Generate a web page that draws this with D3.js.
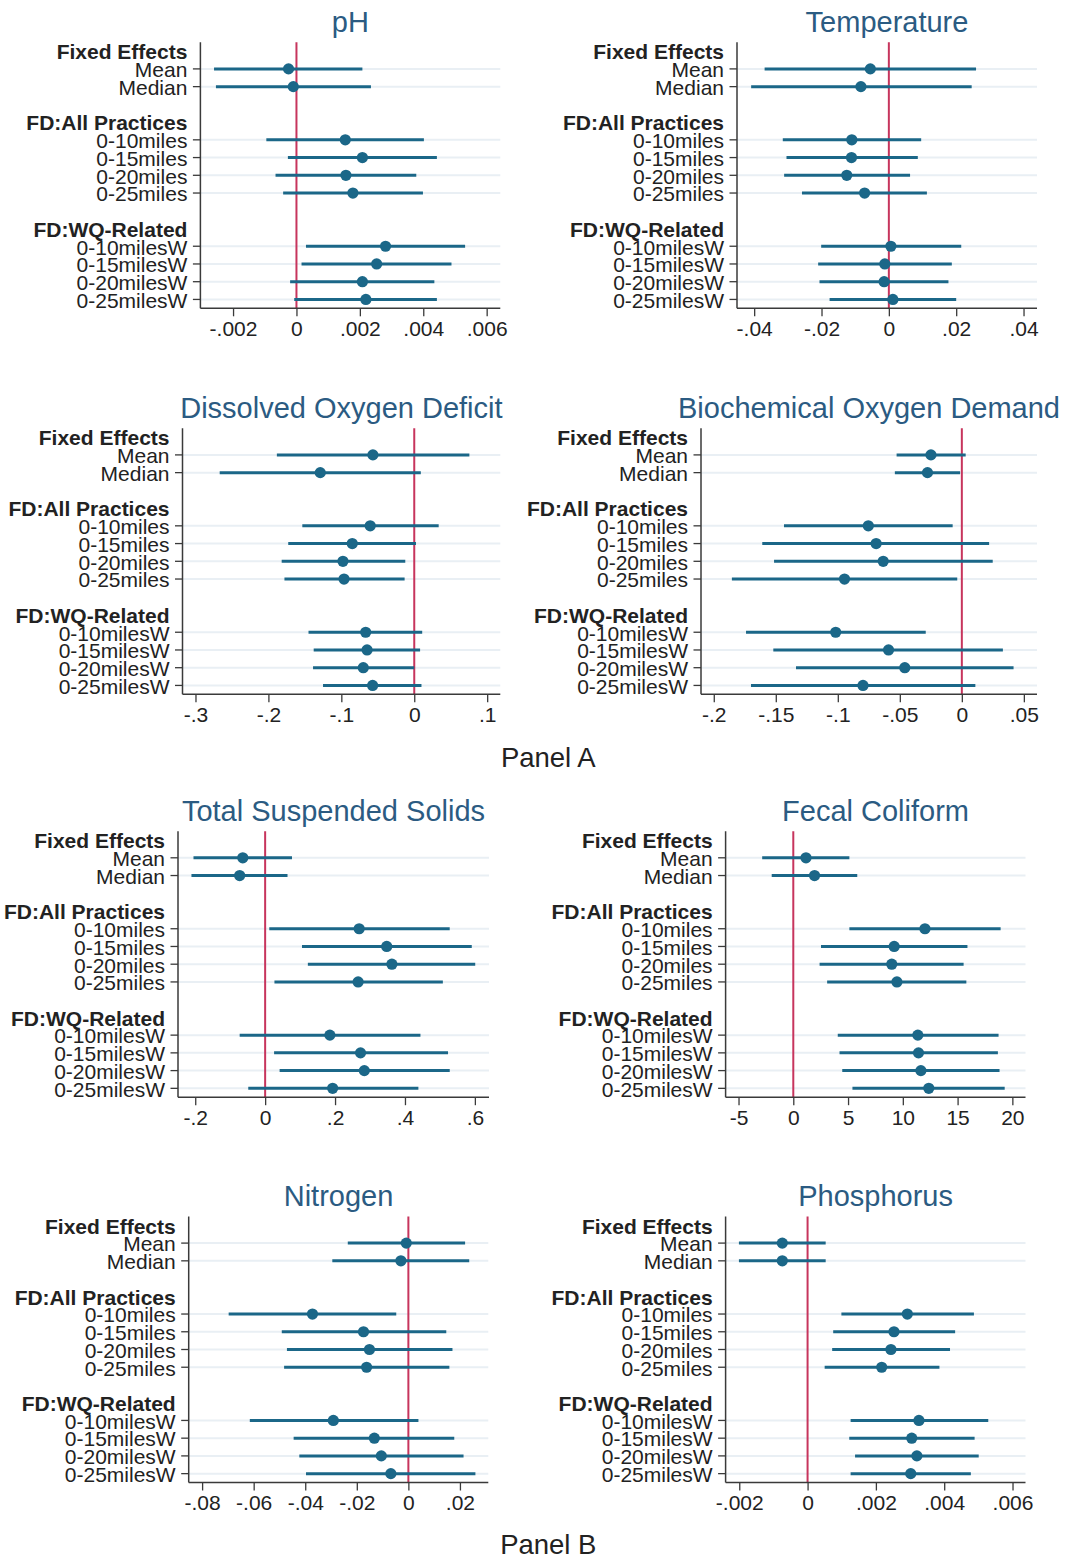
<!DOCTYPE html>
<html>
<head>
<meta charset="utf-8">
<script src="https://cdn.jsdelivr.net/npm/d3@7"></script>
<style>
  html, body { margin: 0; padding: 0; background: #ffffff; }
  svg { display: block; }
  text { font-family: "Liberation Sans", Arial, Helvetica, sans-serif; }
</style>
</head>
<body>
<svg id="chart" width="1076" height="1558"></svg>
<script>
// ---------------- DATA ----------------
const groupHeaders = ["Fixed Effects", "FD:All Practices", "FD:WQ-Related"];
const rowLabels = ["Mean", "Median",
  "0-10miles", "0-15miles", "0-20miles", "0-25miles",
  "0-10milesW", "0-15milesW", "0-20milesW", "0-25milesW"];
const panelTitles = ["pH", "Temperature", "Dissolved Oxygen Deficit", "Biochemical Oxygen Demand",
  "Total Suspended Solids", "Fecal Coliform", "Nitrogen", "Phosphorus"];
const sectionLabels = ["Panel A", "Panel B"];

// point estimates, lower and upper bounds (per panel, rows in rowLabels order)
const phEst  = [-0.00025, -0.0001, 0.00154, 0.00208, 0.00156, 0.00178, 0.00281, 0.00253, 0.00208, 0.00219];
const phLo   = [-0.0026, -0.00254, -0.00095, -0.00027, -0.00066, -0.00042, 0.0003, 0.00016, -0.0002, -0.00007];
const phHi   = [0.00208, 0.00235, 0.00402, 0.00443, 0.00378, 0.00399, 0.00532, 0.00489, 0.00435, 0.00443];

const tempEst = [-0.0055, -0.0083, -0.011, -0.0111, -0.0125, -0.0072, 0.0006, -0.0012, -0.0014, 0.0012];
const tempLo  = [-0.0369, -0.0409, -0.0315, -0.0304, -0.0311, -0.0258, -0.0201, -0.021, -0.0206, -0.0176];
const tempHi  = [0.0259, 0.0246, 0.0096, 0.0086, 0.0063, 0.0113, 0.0215, 0.0187, 0.0177, 0.02];

const doEst = [-0.0567, -0.1289, -0.0604, -0.085, -0.0978, -0.0963, -0.0666, -0.0647, -0.0699, -0.0571];
const doLo  = [-0.1884, -0.2668, -0.1535, -0.1728, -0.1818, -0.178, -0.145, -0.1379, -0.1388, -0.1251];
const doHi  = [0.0756, 0.009, 0.0335, 0.0024, -0.0123, -0.0132, 0.0109, 0.008, 0.0, 0.0099];

const bodEst = [-0.0249, -0.0277, -0.0754, -0.0691, -0.0634, -0.0946, -0.1017, -0.0591, -0.046, -0.0797];
const bodLo  = [-0.0526, -0.054, -0.1434, -0.1609, -0.1514, -0.1854, -0.174, -0.152, -0.1337, -0.17];
const bodHi  = [0.0031, -0.0014, -0.0074, 0.022, 0.0249, -0.0037, -0.0291, 0.0331, 0.0417, 0.0109];

const tssEst = [-0.064, -0.0729, 0.269, 0.3478, 0.3626, 0.266, 0.1852, 0.2729, 0.2837, 0.1931];
const tssLo  = [-0.205, -0.2108, 0.0118, 0.1054, 0.1222, 0.0266, -0.0729, 0.0256, 0.0414, -0.0483];
const tssHi  = [0.0768, 0.064, 0.528, 0.5911, 0.601, 0.5084, 0.4443, 0.5232, 0.5281, 0.4384];

const fcEst = [1.16, 1.94, 12.02, 9.21, 8.99, 9.46, 11.37, 11.43, 11.65, 12.37];
const fcLo  = [-2.84, -1.97, 5.12, 2.53, 2.4, 3.09, 4.06, 4.22, 4.47, 5.4];
const fcHi  = [5.12, 5.84, 18.93, 15.9, 15.55, 15.8, 18.74, 18.68, 18.83, 19.3];

const nEst = [-0.0008, -0.0029, -0.0372, -0.0174, -0.0151, -0.0162, -0.0291, -0.0132, -0.0105, -0.0068];
const nLo  = [-0.0235, -0.0295, -0.0697, -0.0491, -0.0471, -0.0482, -0.0615, -0.0445, -0.0423, -0.0397];
const nHi  = [0.022, 0.0236, -0.0047, 0.0147, 0.0171, 0.0159, 0.0039, 0.0178, 0.0214, 0.026];

const pEst = [-0.00074, -0.00074, 0.00292, 0.00253, 0.00244, 0.00217, 0.00326, 0.00305, 0.0032, 0.00302];
const pLo  = [-0.00201, -0.00201, 0.00099, 0.00075, 0.00072, 0.0005, 0.00126, 0.00122, 0.00139, 0.00126];
const pHi  = [0.00053, 0.00053, 0.00487, 0.00432, 0.00417, 0.00386, 0.00529, 0.00489, 0.00501, 0.00478];

// x-axis tick values and labels
const phTicks   = [-0.002, 0, 0.002, 0.004, 0.006];
const phTickLabels = ["-.002", "0", ".002", ".004", ".006"];
const tempTicks = [-0.04, -0.02, 0, 0.02, 0.04];
const tempTickLabels = ["-.04", "-.02", "0", ".02", ".04"];
const doTicks   = [-0.3, -0.2, -0.1, 0, 0.1];
const doTickLabels = ["-.3", "-.2", "-.1", "0", ".1"];
const bodTicks  = [-0.2, -0.15, -0.1, -0.05, 0, 0.05];
const bodTickLabels = ["-.2", "-.15", "-.1", "-.05", "0", ".05"];
const tssTicks  = [-0.2, 0, 0.2, 0.4, 0.6];
const tssTickLabels = ["-.2", "0", ".2", ".4", ".6"];
const fcTicks   = [-5, 0, 5, 10, 15, 20];
const fcTickLabels = ["-5", "0", "5", "10", "15", "20"];
const nTicks    = [-0.08, -0.06, -0.04, -0.02, 0, 0.02];
const nTickLabels = ["-.08", "-.06", "-.04", "-.02", "0", ".02"];
const pTicks    = [-0.002, 0, 0.002, 0.004, 0.006];
const pTickLabels = ["-.002", "0", ".002", ".004", ".006"];

// axis ranges (data units)
const phDomain   = [-0.00303, 0.00643];
const tempDomain = [-0.0451, 0.044];
const doDomain   = [-0.3178, 0.118];
const bodDomain  = [-0.2103, 0.0606];
const tssDomain  = [-0.2493, 0.6404];
const fcDomain   = [-6.18, 21.2];
const nDomain    = [-0.0852, 0.031];
const pDomain    = [-0.0024, 0.00638];

// ---------------- LAYOUT / STYLE ----------------
const panels = [
  {title: panelTitles[0], est: phEst, lo: phLo, hi: phHi, ticks: phTicks, tickLabels: phTickLabels, domain: phDomain},
  {title: panelTitles[1], est: tempEst, lo: tempLo, hi: tempHi, ticks: tempTicks, tickLabels: tempTickLabels, domain: tempDomain},
  {title: panelTitles[2], est: doEst, lo: doLo, hi: doHi, ticks: doTicks, tickLabels: doTickLabels, domain: doDomain},
  {title: panelTitles[3], est: bodEst, lo: bodLo, hi: bodHi, ticks: bodTicks, tickLabels: bodTickLabels, domain: bodDomain},
  {title: panelTitles[4], est: tssEst, lo: tssLo, hi: tssHi, ticks: tssTicks, tickLabels: tssTickLabels, domain: tssDomain},
  {title: panelTitles[5], est: fcEst, lo: fcLo, hi: fcHi, ticks: fcTicks, tickLabels: fcTickLabels, domain: fcDomain},
  {title: panelTitles[6], est: nEst, lo: nLo, hi: nHi, ticks: nTicks, tickLabels: nTickLabels, domain: nDomain},
  {title: panelTitles[7], est: pEst, lo: pLo, hi: pHi, ticks: pTicks, tickLabels: pTickLabels, domain: pDomain}
];
// plot-region boxes [left, right, top]
const boxes = [
  [200.4, 500.3, 42.3], [737, 1037, 42.3],
  [182.5, 500.3, 428.3], [701, 1037, 428.3],
  [178, 489, 831.2], [725.6, 1025.5, 831.2],
  [188.7, 488.3, 1216.5], [725.6, 1025.5, 1216.5]
];
const plotH = 266;
const headerSlots = [0, 4, 10];
const rowSlots = [1, 2, 5, 6, 7, 8, 11, 12, 13, 14];
const sectionPos = [[548.3, 767], [548.3, 1553.5]];

const C = {
  ci: "#1b6788", dot: "#1b6788", ref: "#c7355d", title: "#2b5b82",
  text: "#222222", axis: "#3a3a3a", grid: "#e9eff4"
};
const FS = "21px";

const svg = d3.select("#chart");

panels.forEach((p, i) => {
  const [L, R, T] = boxes[i];
  const B = T + plotH;
  const x = d3.scaleLinear().domain(p.domain).range([L, R]);
  const y = d3.scaleLinear().domain([-0.5, 14.5]).range([T, B]);
  const g = svg.append("g");

  // gridlines
  g.selectAll("line.grid").data(rowSlots).enter().append("line")
    .attr("x1", L).attr("x2", R)
    .attr("y1", d => y(d)).attr("y2", d => y(d))
    .attr("stroke", C.grid).attr("stroke-width", 2);

  // reference line at 0
  g.append("line")
    .attr("x1", x(0)).attr("x2", x(0)).attr("y1", T).attr("y2", B)
    .attr("stroke", C.ref).attr("stroke-width", 2);

  // CI lines
  const rows = rowLabels.map((lab, k) => ({lab, slot: rowSlots[k], est: p.est[k], lo: p.lo[k], hi: p.hi[k]}));
  g.selectAll("line.ci").data(rows).enter().append("line")
    .attr("x1", d => x(d.lo)).attr("x2", d => x(d.hi))
    .attr("y1", d => y(d.slot)).attr("y2", d => y(d.slot))
    .attr("stroke", C.ci).attr("stroke-width", 3);

  g.selectAll("circle").data(rows).enter().append("circle")
    .attr("cx", d => x(d.est)).attr("cy", d => y(d.slot)).attr("r", 5.6)
    .attr("fill", C.dot);

  // x axis
  const xAxis = d3.axisBottom(x).tickValues(p.ticks)
    .tickFormat((d, k) => p.tickLabels[k]).tickSize(8).tickPadding(5);
  const ax = g.append("g").attr("transform", `translate(0,${B})`).call(xAxis);
  ax.select(".domain").remove();
  ax.selectAll(".tick line").attr("stroke", C.axis).attr("stroke-width", 1.3);
  ax.selectAll(".tick text").attr("fill", C.text).style("font-size", FS)
    .attr("font-family", "Liberation Sans, Arial, sans-serif");
  g.append("line").attr("x1", L).attr("x2", R).attr("y1", B).attr("y2", B)
    .attr("stroke", C.axis).attr("stroke-width", 1.5);

  // y axis line + ticks
  g.append("line").attr("x1", L).attr("x2", L).attr("y1", T).attr("y2", B)
    .attr("stroke", C.axis).attr("stroke-width", 1.5);
  g.selectAll("line.ytick").data(rowSlots).enter().append("line")
    .attr("x1", L - 7.5).attr("x2", L)
    .attr("y1", d => y(d)).attr("y2", d => y(d))
    .attr("stroke", C.axis).attr("stroke-width", 1.3);

  // row labels
  g.selectAll("text.rowlab").data(rows).enter().append("text")
    .attr("x", L - 13).attr("y", d => y(d.slot) + 8.3)
    .attr("text-anchor", "end").attr("fill", C.text).style("font-size", FS)
    .text(d => d.lab);
  // header labels
  g.selectAll("text.hdr").data(groupHeaders).enter().append("text")
    .attr("x", L - 13).attr("y", (d, k) => y(headerSlots[k]) + 8.3)
    .attr("text-anchor", "end").attr("fill", C.text).style("font-size", FS)
    .style("font-weight", "bold")
    .text(d => d);

  // title
  g.append("text")
    .attr("x", (L + R) / 2).attr("y", T - 10.5)
    .attr("text-anchor", "middle").attr("fill", C.title).style("font-size", "29px")
    .text(p.title);
});

svg.selectAll("text.section").data(sectionLabels).enter().append("text")
  .attr("x", (d, k) => sectionPos[k][0]).attr("y", (d, k) => sectionPos[k][1])
  .attr("text-anchor", "middle").attr("fill", C.text).style("font-size", "27.5px")
  .text(d => d);
</script>
</body>
</html>
